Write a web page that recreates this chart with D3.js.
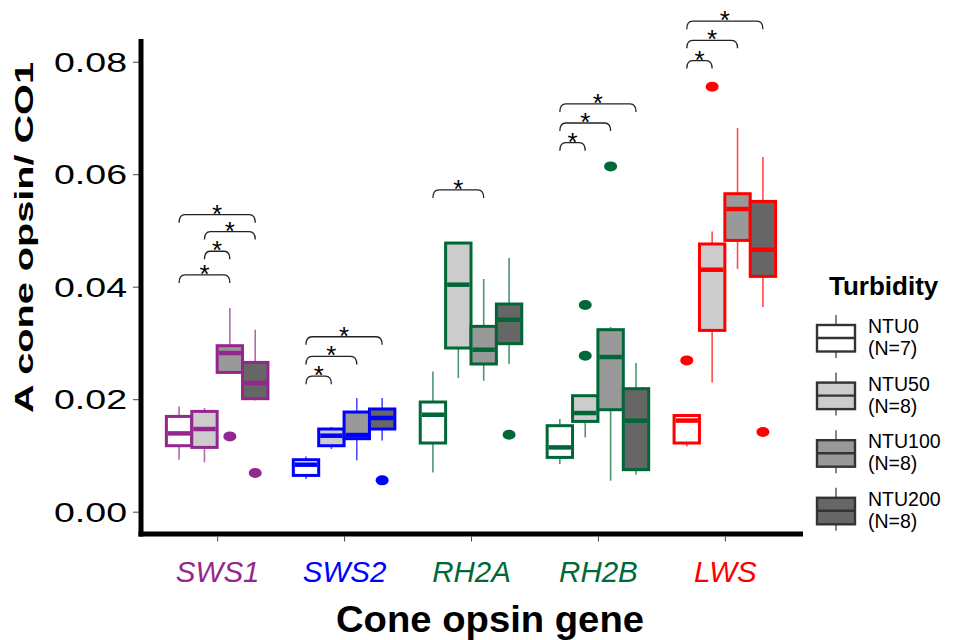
<html>
<head>
<meta charset="UTF-8">
<title>Cone opsin / CO1</title>
<script src="https://cdn.jsdelivr.net/npm/d3@7"></script>
<style>
body{margin:0;background:#fff;}
text{font-family:"Liberation Sans",Arial,sans-serif;}
</style>
</head>
<body>
<div id="chart"></div>
<script>
// genes on x axis and their label / box colour
var genes = ["SWS1", "SWS2", "RH2A", "RH2B", "LWS"];
var geneColors = ["#93278f", "#0000ff", "#006837", "#006837", "#ff0000"];
// turbidity groups (legend)
var turbidity = ["NTU0", "NTU50", "NTU100", "NTU200"];
var sampleN = ["(N=7)", "(N=8)", "(N=8)", "(N=8)"];
var turbidityFill = ["#ffffff", "#cccccc", "#999999", "#666666"];

// box statistics, one row per gene, one value per turbidity group
var whiskerLow = [
	[0.00924, 0.00877, 0.02447, 0.01979],
	[0.00581, 0.01115, 0.00912, 0.01268],
	[0.00699, 0.02377, 0.02329, 0.02626],
	[0.00848, 0.01321, 0.00551, 0.00658],
	[0.01161, 0.02299, 0.04315, 0.03639]
];
var q1 = [
	[0.01173, 0.01143, 0.02476, 0.02009],
	[0.00645, 0.01173, 0.01298, 0.01470],
	[0.01221, 0.02910, 0.02626, 0.02987],
	[0.00965, 0.01605, 0.01813, 0.00747],
	[0.01221, 0.03223, 0.04823, 0.04183]
];
var median = [
	[0.01392, 0.01470, 0.02821, 0.02288],
	[0.00836, 0.01351, 0.01363, 0.01666],
	[0.01724, 0.04036, 0.02880, 0.03413],
	[0.01143, 0.01754, 0.02750, 0.01618],
	[0.01620, 0.04302, 0.05381, 0.04658]
];
var q3 = [
	[0.01694, 0.01783, 0.02951, 0.02654],
	[0.00924, 0.01470, 0.01772, 0.01826],
	[0.01950, 0.04776, 0.03295, 0.03692],
	[0.01529, 0.02062, 0.03236, 0.02187],
	[0.01710, 0.04759, 0.05653, 0.05516]
];
var whiskerHigh = [
	[0.01872, 0.01843, 0.03621, 0.03236],
	[0.00983, 0.01506, 0.02021, 0.02021],
	[0.02494, 0.04776, 0.04137, 0.04510],
	[0.01648, 0.02062, 0.03283, 0.02643],
	[0.01710, 0.04983, 0.06821, 0.06306]
];
// outliers: [gene index, turbidity index, value]
var outliers = [
	[0, 2, 0.01339], [0, 3, 0.00688],
	[1, 3, 0.00557],
	[2, 3, 0.01369],
	[3, 1, 0.03674], [3, 1, 0.02773], [3, 2, 0.06139],
	[4, 0, 0.02690], [4, 1, 0.07556], [4, 3, 0.01418]
];
// significance brackets: [gene index, from group, to group, level]
var signif = [
	[0, 0, 3, 0.0528], [0, 1, 3, 0.0498], [0, 1, 2, 0.0463], [0, 0, 2, 0.0421],
	[1, 0, 3, 0.0311], [1, 0, 2, 0.0276], [1, 0, 1, 0.0241],
	[2, 0, 2, 0.0572],
	[3, 0, 3, 0.0725], [3, 0, 2, 0.0691], [3, 0, 1, 0.0656],
	[4, 0, 3, 0.0872], [4, 0, 2, 0.0838], [4, 0, 1, 0.0802]
];
var yTicks = [0, 0.02, 0.04, 0.06, 0.08];

window.onload = function() {
	var width = 956, height = 640;
	var svg = d3.select("#chart").append("svg")
		.attr("width", width)
		.attr("height", height);

	var x = d3.scalePoint().domain(genes).range([141, 801]).padding(0.6);
	var xSub = d3.scaleBand().domain(turbidity)
		.range([-0.4 * x.step(), 0.4 * x.step()]);
	var y = d3.scaleLinear().domain([0, 0.08]).range([511.7, 61.7]);

	// y axis
	var yAxis = svg.append("g")
		.attr("transform", "translate(139,0)")
		.call(d3.axisLeft(y).tickValues(yTicks).tickFormat(d3.format(".2f")).tickSize(6).tickPadding(6));
	yAxis.select(".domain").remove();
	yAxis.selectAll(".tick line").attr("stroke", "#444").attr("stroke-width", 1);
	yAxis.selectAll(".tick text")
		.attr("fill", "#000")
		.attr("font-size", 27)
		.attr("dy", "0.36em")
		.attr("textLength", 73)
		.attr("lengthAdjust", "spacingAndGlyphs");

	// x axis
	var xAxis = svg.append("g")
		.attr("transform", "translate(0,536.5)")
		.call(d3.axisBottom(x).tickSize(5).tickPadding(20));
	xAxis.select(".domain").remove();
	xAxis.selectAll(".tick line").attr("stroke", "#444").attr("stroke-width", 1);
	xAxis.selectAll(".tick text")
		.attr("font-size", 29.5)
		.attr("font-style", "italic")
		.attr("fill", function(d, i) { return geneColors[i]; });

	// thick axis lines
	svg.append("line")
		.attr("x1", 141).attr("x2", 141)
		.attr("y1", 39).attr("y2", 536.5)
		.attr("stroke", "#000").attr("stroke-width", 5);
	svg.append("line")
		.attr("x1", 138.5).attr("x2", 803)
		.attr("y1", 534).attr("y2", 534)
		.attr("stroke", "#000").attr("stroke-width", 5);

	// boxes
	genes.forEach(function(g, gi) {
		var col = geneColors[gi];
		turbidity.forEach(function(t, ti) {
			var x0 = x(g) + xSub(t);
			var bw = xSub.bandwidth();
			var cx = x0 + bw / 2;
			var box = svg.append("g");
			box.append("line")
				.attr("x1", cx).attr("x2", cx)
				.attr("y1", y(whiskerLow[gi][ti]))
				.attr("y2", y(whiskerHigh[gi][ti]))
				.attr("stroke", col)
				.attr("stroke-opacity", 0.7)
				.attr("stroke-width", 1.6);
			box.append("rect")
				.attr("x", x0)
				.attr("width", bw)
				.attr("y", y(q3[gi][ti]))
				.attr("height", y(q1[gi][ti]) - y(q3[gi][ti]))
				.attr("fill", turbidityFill[ti])
				.attr("stroke", col)
				.attr("stroke-width", 3);
			box.append("line")
				.attr("x1", x0 + 1.5).attr("x2", x0 + bw - 1.5)
				.attr("y1", y(median[gi][ti]))
				.attr("y2", y(median[gi][ti]))
				.attr("stroke", col)
				.attr("stroke-width", 4.5);
		});
	});

	// outliers
	svg.selectAll(".outlier")
		.data(outliers)
		.enter().append("ellipse")
		.attr("class", "outlier")
		.attr("cx", function(d) { return x(genes[d[0]]) + xSub(turbidity[d[1]]) + xSub.bandwidth() / 2; })
		.attr("cy", function(d) { return y(d[2]); })
		.attr("rx", 6.5)
		.attr("ry", 5)
		.attr("fill", function(d) { return geneColors[d[0]]; });

	// significance brackets
	signif.forEach(function(s) {
		var xa = x(genes[s[0]]) + xSub(turbidity[s[1]]) + xSub.bandwidth() / 2;
		var xb = x(genes[s[0]]) + xSub(turbidity[s[2]]) + xSub.bandwidth() / 2;
		var yy = y(s[3]);
		var p = "M" + xa + "," + (yy + 8) +
			"Q" + xa + "," + yy + " " + (xa + 6) + "," + yy +
			"L" + (xb - 6) + "," + yy +
			"Q" + xb + "," + yy + " " + xb + "," + (yy + 8);
		svg.append("path")
			.attr("d", p)
			.attr("fill", "none")
			.attr("stroke", "#222")
			.attr("stroke-width", 1.3);
		svg.append("text")
			.attr("x", (xa + xb) / 2)
			.attr("y", yy + 8)
			.attr("text-anchor", "middle")
			.attr("font-size", 26)
			.text("*");
	});

	// axis titles
	svg.append("text")
		.attr("transform", "translate(33,237.5) rotate(-90)")
		.attr("text-anchor", "middle")
		.attr("font-size", 25.5)
		.attr("font-weight", "bold")
		.attr("textLength", 351)
		.attr("lengthAdjust", "spacingAndGlyphs")
		.text("A cone opsin/ CO1");
	svg.append("text")
		.attr("x", 490)
		.attr("y", 632)
		.attr("text-anchor", "middle")
		.attr("font-size", 37)
		.attr("font-weight", "bold")
		.attr("textLength", 308)
		.attr("lengthAdjust", "spacingAndGlyphs")
		.text("Cone opsin gene");

	// legend
	svg.append("text")
		.attr("x", 829)
		.attr("y", 295)
		.attr("font-size", 26)
		.attr("font-weight", "bold")
		.text("Turbidity");
	turbidity.forEach(function(t, i) {
		var cy = 338 + i * 57.6;
		var lg = svg.append("g").attr("transform", "translate(0," + cy + ")");
		lg.append("line")
			.attr("x1", 836).attr("x2", 836)
			.attr("y1", -23).attr("y2", 20)
			.attr("stroke", "#333").attr("stroke-width", 1.2);
		lg.append("rect")
			.attr("x", 817).attr("y", -13)
			.attr("width", 38).attr("height", 26.5)
			.attr("fill", turbidityFill[i])
			.attr("stroke", "#333")
			.attr("stroke-width", 2.4);
		lg.append("line")
			.attr("x1", 818).attr("x2", 854)
			.attr("y1", 0).attr("y2", 0)
			.attr("stroke", "#333").attr("stroke-width", 2.4);
		lg.append("text")
			.attr("x", 868).attr("y", -5)
			.attr("font-size", 19.5)
			.text(t);
		lg.append("text")
			.attr("x", 868).attr("y", 17)
			.attr("font-size", 19.5)
			.text(sampleN[i]);
	});
};
</script>
</body>
</html>
